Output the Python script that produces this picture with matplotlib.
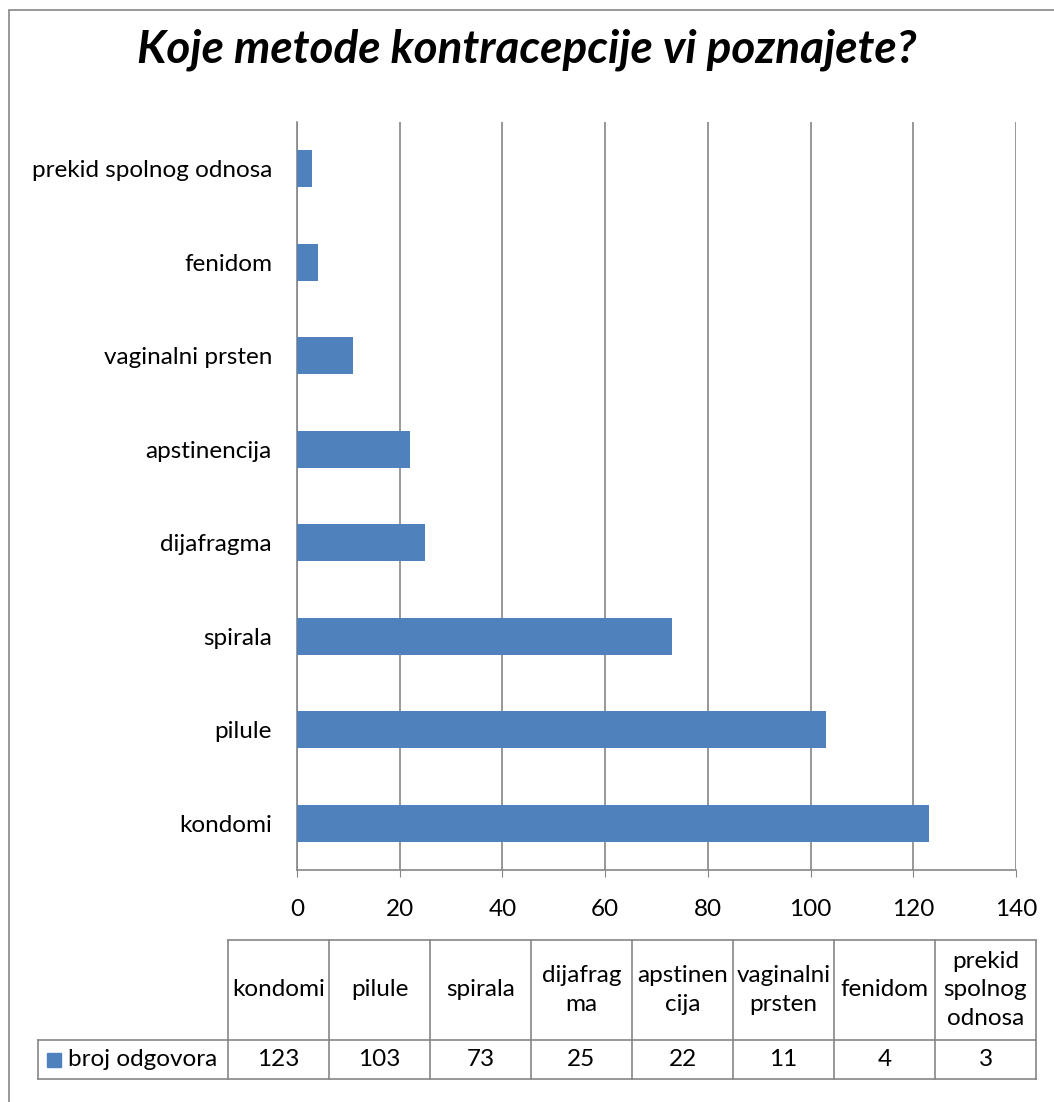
import matplotlib.pyplot as plt
from matplotlib.lines import Line2D
from matplotlib.patches import Rectangle

plt.rcParams['font.family'] = ['Lato', 'DejaVu Sans']

categories = ['kondomi', 'pilule', 'spirala', 'dijafragma', 'apstinencija',
              'vaginalni prsten', 'fenidom', 'prekid spolnog odnosa']
table_labels = ['kondomi', 'pilule', 'spirala', 'dijafrag\nma', 'apstinen\ncija',
                'vaginalni\nprsten', 'fenidom', 'prekid\nspolnog\nodnosa']
values = [123, 103, 73, 25, 22, 11, 4, 3]
series_name = 'broj odgovora'
title = 'Koje metode kontracepcije vi poznajete?'

W, H = 1054, 1102
bar_color = '#4f81bd'
grid_color = '#868686'
fs = 17.5

fig = plt.figure(figsize=(W / 100, H / 100), dpi=100)

def fx(px):
    return px / W

def fy(py):
    return 1 - py / H

# outer chart border (bottom and right edges fall outside the image)
fig.add_artist(Rectangle((fx(9), fy(1120)), fx(1070) - fx(9), fy(10) - fy(1120),
                         fill=False, ec=grid_color, lw=1.2, transform=fig.transFigure))

fig.text(0.5, fy(50), title, ha='center', va='center', fontsize=33,
         fontweight='bold', fontstyle='italic')

ax = fig.add_axes([fx(297), fy(870), fx(1016) - fx(297), fy(122) - fy(870)])
y = range(len(categories))
ax.barh(y, values, height=0.4, color=bar_color, zorder=3)
ax.set_xlim(0, 140)
ax.set_ylim(-0.5, len(categories) - 0.5)
ax.set_xticks(range(0, 141, 20))
ax.set_yticks(list(y))
ax.set_yticklabels(categories)
ax.grid(axis='x', color=grid_color, lw=1.2, zorder=0)
for s in ['top', 'right']:
    ax.spines[s].set_visible(False)
for s in ['left', 'bottom']:
    ax.spines[s].set_color(grid_color)
    ax.spines[s].set_linewidth(1.2)
ax.tick_params(axis='x', length=5, color=grid_color, labelsize=fs, pad=16)
ax.tick_params(axis='y', length=0, labelsize=fs, pad=18)

# data table below the chart
col_left = 228
col_w = (1036 - 228) / len(categories)
row_top, row_mid, row_bot = 940, 1040, 1079
legend_left = 38

def hline(x0, x1, yy):
    fig.add_artist(Line2D([fx(x0), fx(x1)], [fy(yy), fy(yy)], color=grid_color,
                          lw=1.2, transform=fig.transFigure))

def vline(xx, y0, y1):
    fig.add_artist(Line2D([fx(xx), fx(xx)], [fy(y0), fy(y1)], color=grid_color,
                          lw=1.2, transform=fig.transFigure))

hline(col_left, 1036, row_top)
hline(legend_left, 1036, row_mid)
hline(legend_left, 1036, row_bot)
vline(legend_left, row_mid, row_bot)
for i in range(len(categories) + 1):
    vline(col_left + i * col_w, row_top, row_bot)

for i, (lab, v) in enumerate(zip(table_labels, values)):
    cx = fx(col_left + (i + 0.5) * col_w)
    fig.text(cx, fy((row_top + row_mid) / 2), lab, ha='center', va='center',
             fontsize=fs, linespacing=1.45)
    fig.text(cx, fy((row_mid + row_bot) / 2), str(v), ha='center', va='center',
             fontsize=fs)

fig.add_artist(Rectangle((fx(47), fy(1067)), fx(61) - fx(47), fy(1053) - fy(1067),
                         color=bar_color, transform=fig.transFigure))
fig.text(fx(68), fy((row_mid + row_bot) / 2), series_name, ha='left', va='center',
         fontsize=fs)

fig.savefig('out.png', dpi=100)
